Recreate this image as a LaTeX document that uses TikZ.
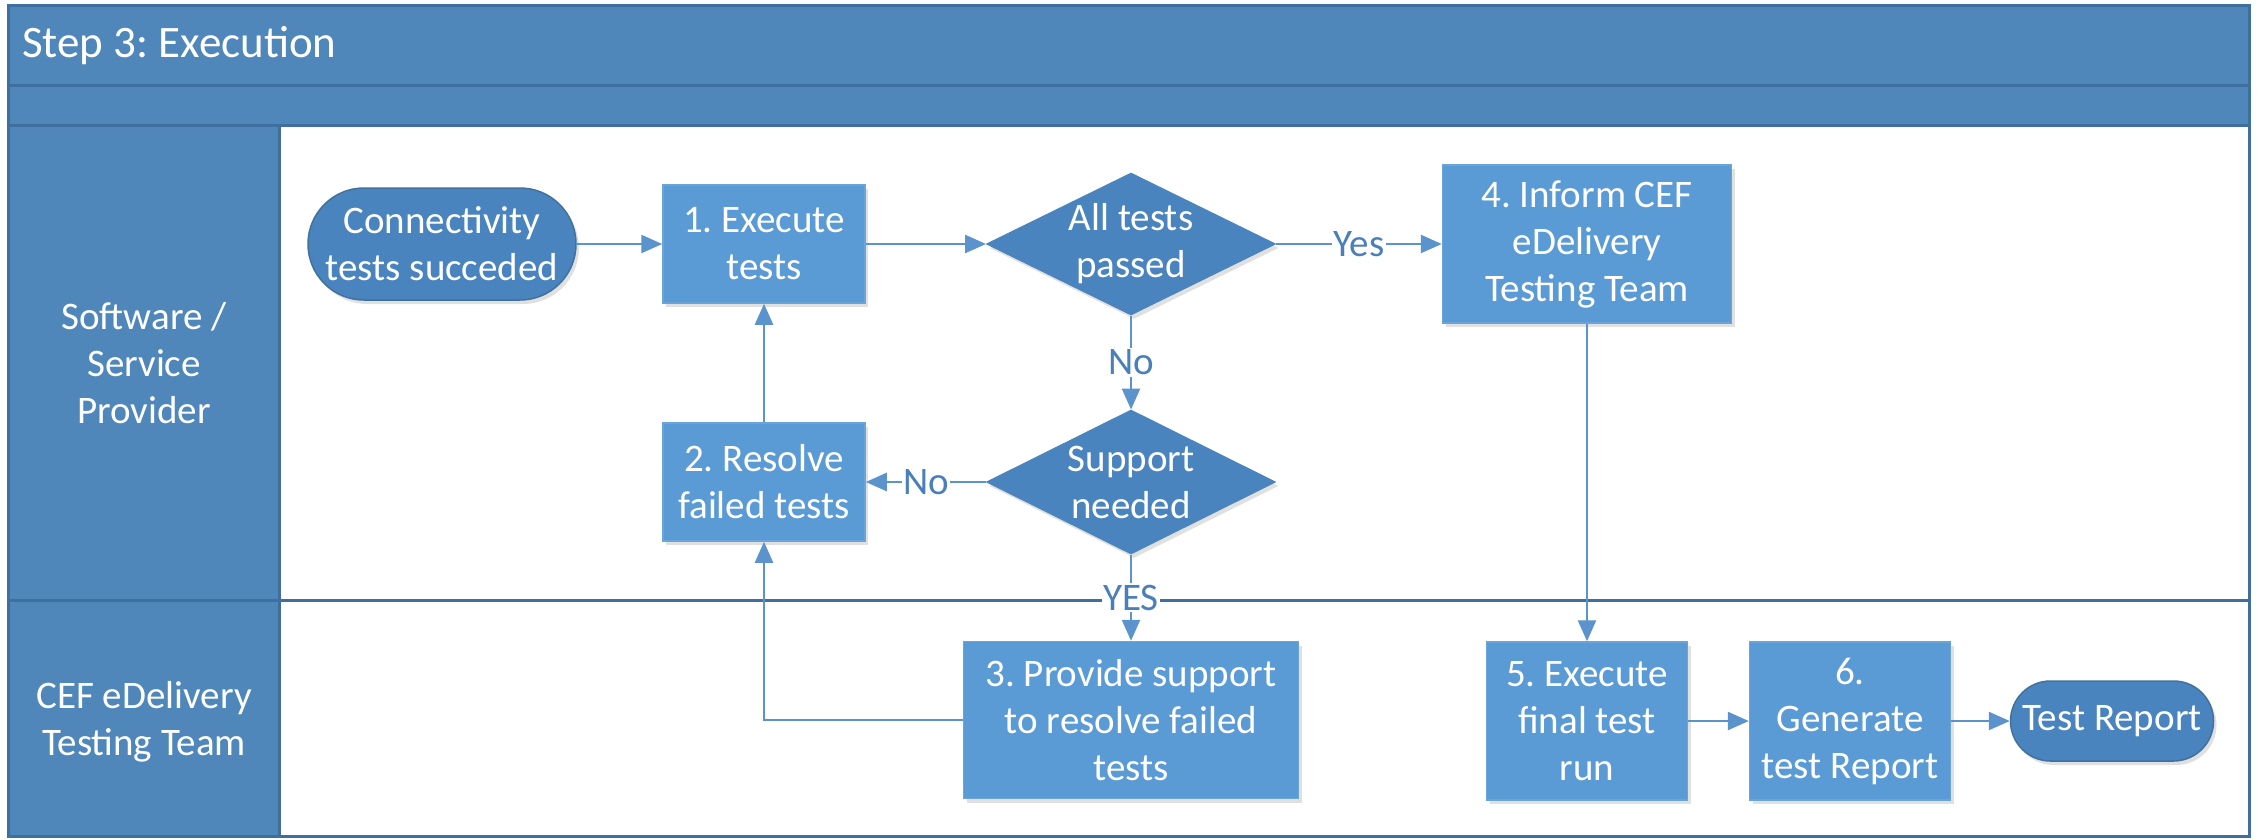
\documentclass[tikz,border=0pt]{standalone}
\usepackage{fontspec}
\setmainfont{Carlito}
\usetikzlibrary{arrows.meta,shapes.geometric,shadows}
\definecolor{lanebg}{HTML}{4F87BB}
\definecolor{laneline}{HTML}{3F6F9E}
\definecolor{boxblue}{HTML}{5B9BD5}
\definecolor{boxedge}{HTML}{6AA5DA}
\definecolor{darkblue}{HTML}{4A84BF}
\definecolor{darkedge}{HTML}{41719C}
\definecolor{connblue}{HTML}{5B93CC}
\definecolor{lblblue}{HTML}{4A7FB8}
\tikzset{
  txt/.style={text=white, align=center, font=\fontsize{39}{47}\selectfont, inner sep=0pt},
  procbox/.style={txt, rectangle, fill=boxblue, draw=boxedge, line width=1.5pt,
    drop shadow={shadow xshift=3pt, shadow yshift=-4pt, opacity=0.12, fill=black}},
  decision/.style={diamond, fill=darkblue, draw=darkblue, line width=1pt, inner sep=0pt,
    drop shadow={shadow xshift=3pt, shadow yshift=-4pt, opacity=0.12, fill=black}},
  pill/.style={txt, rectangle, fill=darkblue, draw=darkedge, line width=1.5pt,
    drop shadow={shadow xshift=3pt, shadow yshift=-4pt, opacity=0.12, fill=black}},
  conn/.style={draw=connblue, line width=2.5pt, -{Triangle[length=21pt,width=18pt]}},
  lbl/.style={fill=white, text=lblblue, inner sep=1.5pt, font=\fontsize{39}{44}\selectfont},
  lanetxt/.style={text=white, align=center, font=\fontsize{39}{47}\selectfont, inner sep=0pt},
  laneln/.style={draw=laneline, line width=3pt}
}
\begin{document}
\frenchspacing
\begin{tikzpicture}[x=1pt,y=-1pt]
\useasboundingbox (0,0) rectangle (2259,839);
\fill[white] (0,0) rectangle (2259,839);
% pool header and lane headers
\fill[lanebg] (8,5) rectangle (2249,125);
\fill[lanebg] (8,125) rectangle (279,836);
\draw[laneln] (8,5) rectangle (2249,836);
\draw[laneln] (8,85) -- (2249,85);
\draw[laneln] (8,125) -- (2249,125);
\draw[laneln] (279,125) -- (279,836);
\draw[laneln] (8,600) -- (2249,600);
\node[anchor=west, text=white, font=\fontsize{45}{52}\selectfont, inner sep=0pt] (title) at (22,46) {Step 3: Execution};
\node[lanetxt] (lane1) at (144,363) {Software /\\Service\\Provider};
\node[lanetxt] (lane2) at (144,722) {CEF eDelivery\\Testing Team};
% nodes
\node[pill, minimum width=268pt, minimum height=112pt, rounded corners=56pt] (start) at (442,244) {Connectivity\\tests succeded};
\node[procbox, minimum width=202pt, minimum height=118pt] (b1) at (764,244) {1. Execute\\tests};
\node[decision, minimum width=289pt, minimum height=142pt] (d1) at (1131,244) {};
\node[txt] (d1t) at (d1) {All tests\\passed};
\node[procbox, minimum width=289pt, minimum height=158pt] (b4) at (1587,244) {4. Inform CEF\\eDelivery\\Testing Team};
\node[procbox, minimum width=202pt, minimum height=118pt] (b2) at (764,482) {2. Resolve\\failed tests};
\node[decision, minimum width=289pt, minimum height=144pt] (d2) at (1131,482) {};
\node[txt] (d2t) at (d2) {Support\\needed};
\node[procbox, minimum width=335pt, minimum height=157pt] (b3) at (1131,720) {3. Provide support\\to resolve failed\\tests};
\node[procbox, minimum width=201pt, minimum height=158pt] (b5) at (1587,721) {5. Execute\\final test\\run};
\node[procbox, minimum width=201pt, minimum height=158pt] (b6) at (1850,721) {6.\\Generate\\test Report};
\node[pill, minimum width=203pt, minimum height=80pt, rounded corners=40pt] (end) at (2112,721) {Test Report};
% connectors
\draw[conn] (start) -- (b1);
\draw[conn] (b1) -- (d1);
\draw[conn] (d1) -- node[lbl] {Yes} (b4);
\draw[conn] (d1) -- node[lbl] {No} (d2);
\draw[conn] (d2) -- node[lbl] {No} (b2);
\draw[conn] (b2) -- (b1);
\draw[conn] (d2) -- node[lbl] {YES} (b3);
\draw[conn] (b3.west) -| (b2.south);
\draw[conn] (b4) -- (b5);
\draw[conn] (b5) -- (b6);
\draw[conn] (b6) -- (end);
\end{tikzpicture}
\end{document}
